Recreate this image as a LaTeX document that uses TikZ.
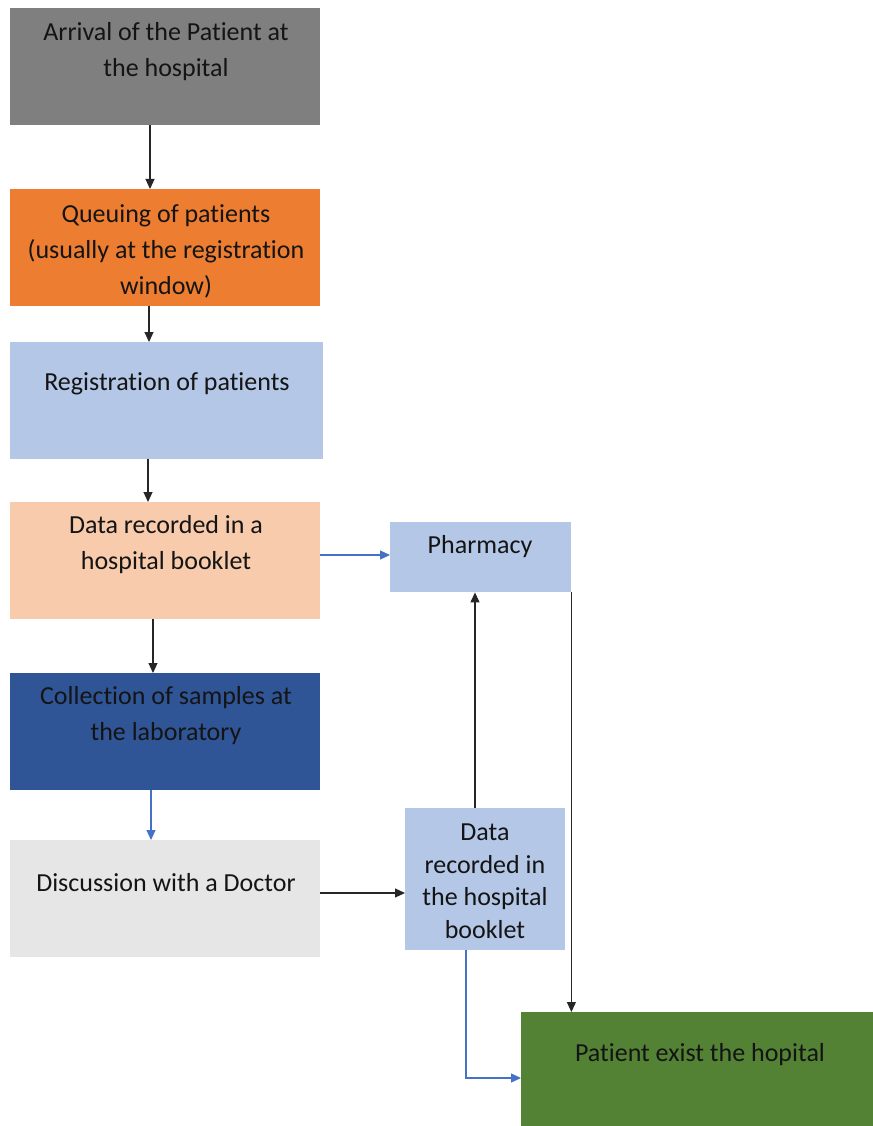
\documentclass[tikz,border=0pt]{standalone}
\usepackage{fontspec}
\setmainfont[Ligatures=NoCommon]{Carlito}
\usetikzlibrary{arrows.meta}
\definecolor{cgray}{HTML}{7F7F7F}
\definecolor{corange}{HTML}{ED7D31}
\definecolor{clblue}{HTML}{B4C7E7}
\definecolor{cpeach}{HTML}{F8CBAD}
\definecolor{cdblue}{HTML}{2F5597}
\definecolor{clgray}{HTML}{E7E6E6}
\definecolor{cgreen}{HTML}{548235}
\definecolor{carrblue}{HTML}{4472C4}
\definecolor{ctext}{HTML}{141414}
\tikzset{
  box/.style={draw=none, anchor=north west, inner sep=0pt},
  txt/.style={inner sep=0pt, align=center, text=ctext, font=\fontsize{26}{36}\selectfont},
  arr/.style={line width=1.1pt, draw=black!85, -{Triangle[width=9pt,length=10pt]}},
  barr/.style={line width=1.1pt, draw=carrblue, -{Triangle[width=9pt,length=10pt]}},
}
\begin{document}
\begin{tikzpicture}[x=1pt,y=-1pt]
\useasboundingbox (0,0) rectangle (872,1126);
\fill[white] (0,0) rectangle (872,1126);
% boxes
\node[box, fill=cgray, minimum width=310pt, minimum height=117pt] (a) at (10,8) {};
\node[box, fill=corange, minimum width=310pt, minimum height=117pt] (q) at (10,189) {};
\node[box, fill=clblue, minimum width=313pt, minimum height=117pt] (r) at (10,342) {};
\node[box, fill=cpeach, minimum width=310pt, minimum height=117pt] (d) at (10,502) {};
\node[box, fill=cdblue, minimum width=310pt, minimum height=117pt] (c) at (10,673) {};
\node[box, fill=clgray, minimum width=310pt, minimum height=117pt] (disc) at (10,840) {};
\node[box, fill=clblue, minimum width=181pt, minimum height=70pt] (ph) at (390,522) {};
\node[box, fill=clblue, minimum width=160pt, minimum height=142pt] (d2) at (405,808) {};
\node[box, fill=cgreen, minimum width=352pt, minimum height=115pt] (ex) at (521,1012) {};
% texts
\node[txt] (ta) at (166,52) {Arrival of the Patient at\\the hospital};
\node[txt] (tq) at (166,251) {Queuing of patients\\(usually at the registration\\window)};
\node[txt] (tr) at (167,384) {Registration of patients};
\node[txt] (td) at (166,545) {Data recorded in a\\hospital booklet};
\node[txt] (tc) at (166,716) {Collection of samples at\\the laboratory};
\node[txt] (tdisc) at (166,883) {Discussion with a Doctor};
\node[txt] (tph) at (480,547) {Pharmacy};
\node[txt, font=\fontsize{26}{32.5}\selectfont] (td2) at (485,881) {Data\\recorded in\\the hospital\\booklet};
\node[txt] (tex) at (700,1055) {Patient exist the hopital};
% connectors
\draw[arr] (a.south -| 150,0) -- (q.north -| 150,0);
\draw[arr] (q.south -| 149,0) -- (r.north -| 149,0);
\draw[arr] (r.south -| 148,0) -- (d.north -| 148,0);
\draw[arr] (d.south -| 153,0) -- (c.north -| 153,0);
\draw[barr] (c.south -| 151,0) -- (disc.north -| 151,0);
\draw[barr] (d.east |- 0,555) -- (ph.west |- 0,555);
\draw[arr] (disc.east |- 0,893) -- (d2.west |- 0,893);
\draw[arr] (d2.north -| 475,0) -- (ph.south -| 475,0);
\draw[arr] (ph.south east) -- (ph.south east |- ex.north);
\draw[barr] (d2.south -| 466,0) |- (ex.west |- 0,1078);
\end{tikzpicture}
\end{document}
